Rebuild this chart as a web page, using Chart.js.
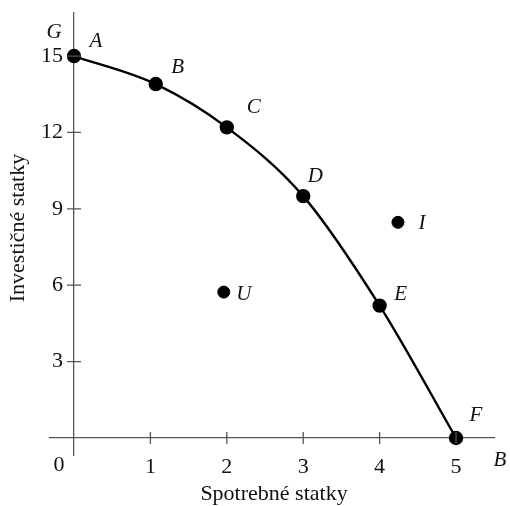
<!DOCTYPE html>
<html>
<head>
<meta charset="utf-8">
<script src="https://cdn.jsdelivr.net/npm/chart.js@4"></script>
<style>
  html, body { margin: 0; padding: 0; background: #fff; }
  #wrap { width: 510px; height: 506px; }
</style>
</head>
<body>
<div id="wrap"><canvas id="ppf"></canvas></div>
<script>
// ─── DATA ────────────────────────────────────────────────
var curveX = [0, 1.07, 2, 3, 4, 5];
var curveY = [15, 13.9, 12.2, 9.5, 5.2, 0];
var curveNames = ['A', 'B', 'C', 'D', 'E', 'F'];

var offX = [4.24, 1.96];
var offY = [8.47, 5.73];
var offNames = ['I', 'U'];

var xTicks = [1, 2, 3, 4, 5];
var yTicks = [3, 6, 9, 12, 15];

var xTitle = 'Spotrebné statky';
var yTitle = 'Investičné statky';

// label offsets in px (style only)
var curveLabelOffsets = [[22, -15], [22, -17], [27, -20], [12, -20], [21, -11], [20, -23]];
var offLabelOffsets = [[24, 1], [20, 2]];

var SERIF = "'Liberation Serif', 'DejaVu Serif', serif";
var AXIS_GREY = '#555';

function pts(xs, ys) {
  return xs.map(function(x, i) { return { x: x, y: ys[i] }; });
}

// the end labels are well inside the area, so no extra room is needed for them
function noEdgePadding(s) {
  s.paddingTop = 0; s.paddingBottom = 0;
  s.paddingLeft = 0; s.paddingRight = 0;
}

// axes tick marks, origin/axis letters, titles and point names
var decorations = {
  id: 'decorations',
  afterDraw: function(chart) {
    var c = chart.ctx;
    var sx = chart.scales.x, sy = chart.scales.y;
    var x0 = sx.getPixelForValue(0), y0 = sy.getPixelForValue(0);
    var area = chart.chartArea;

    c.save();
    c.strokeStyle = AXIS_GREY;
    c.lineWidth = 1.3;
    c.beginPath();
    xTicks.forEach(function(v) {
      var p = sx.getPixelForValue(v);
      c.moveTo(p, y0 - 6); c.lineTo(p, y0 + 6);
    });
    yTicks.forEach(function(v) {
      var p = sy.getPixelForValue(v);
      c.moveTo(x0 - 7, p); c.lineTo(x0 + 7, p);
    });
    c.stroke();

    c.fillStyle = '#111';
    c.font = '22px ' + SERIF;
    c.textAlign = 'center';
    c.textBaseline = 'middle';
    c.fillText('0', x0 - 15, y0 + 27);
    c.fillText(xTitle, (sx.getPixelForValue(0) + sx.getPixelForValue(5)) / 2 + 9, 494);

    c.save();
    c.translate(18, 228);
    c.rotate(-Math.PI / 2);
    c.fillText(yTitle, 0, 0);
    c.restore();

    c.font = 'italic 21px ' + SERIF;
    c.fillText('G', x0 - 20, 32);
    c.fillText('B', area.right + 6, y0 + 22);

    function nameAll(metaIdx, names, offsets) {
      var els = chart.getDatasetMeta(metaIdx).data;
      els.forEach(function(el, i) {
        c.fillText(names[i], el.x + offsets[i][0], el.y + offsets[i][1]);
      });
    }
    nameAll(0, curveNames, curveLabelOffsets);
    nameAll(1, offNames, offLabelOffsets);
    c.restore();
  }
};

new Chart(document.getElementById('ppf'), {
  type: 'scatter',
  data: {
    datasets: [
      {
        label: 'Hranica produkčných možností',
        data: pts(curveX, curveY),
        showLine: true,
        cubicInterpolationMode: 'monotone',
        borderColor: '#000',
        borderWidth: 2.4,
        pointRadius: 6,
        pointBackgroundColor: '#000',
        pointBorderColor: '#000',
        fill: false
      },
      {
        label: 'Mimo hranice',
        data: pts(offX, offY),
        showLine: false,
        pointRadius: 6,
        pointBackgroundColor: '#000',
        pointBorderColor: '#000'
      }
    ]
  },
  options: {
    responsive: true,
    maintainAspectRatio: false,
    animation: false,
    layout: { padding: { left: 50, top: 13, right: 16, bottom: 51 } },
    plugins: {
      legend: { display: false },
      tooltip: { enabled: false }
    },
    scales: {
      x: {
        type: 'linear',
        position: { y: 0 },
        min: -0.314,
        max: 5.497,
        afterBuildTicks: function(s) { s.ticks = xTicks.map(function(v) { return { value: v }; }); },
        afterFit: noEdgePadding,
        grid: { display: false, drawTicks: false },
        border: { display: true, color: AXIS_GREY, width: 1.3 },
        ticks: {
          color: '#111',
          padding: 16,
          font: { family: SERIF, size: 22 }
        }
      },
      y: {
        type: 'linear',
        position: { x: 0 },
        min: -0.667,
        max: 16.69,
        afterBuildTicks: function(s) { s.ticks = yTicks.map(function(v) { return { value: v }; }); },
        afterFit: noEdgePadding,
        grid: { display: false, drawTicks: false },
        border: { display: true, color: AXIS_GREY, width: 1.3 },
        ticks: {
          color: '#111',
          font: { family: SERIF, size: 22 },
          // labels of a value-positioned axis sit right on the line; push them left
          callback: function(v) { return v + '\u2002'; }
        }
      }
    }
  },
  plugins: [decorations]
});
</script>
</body>
</html>
